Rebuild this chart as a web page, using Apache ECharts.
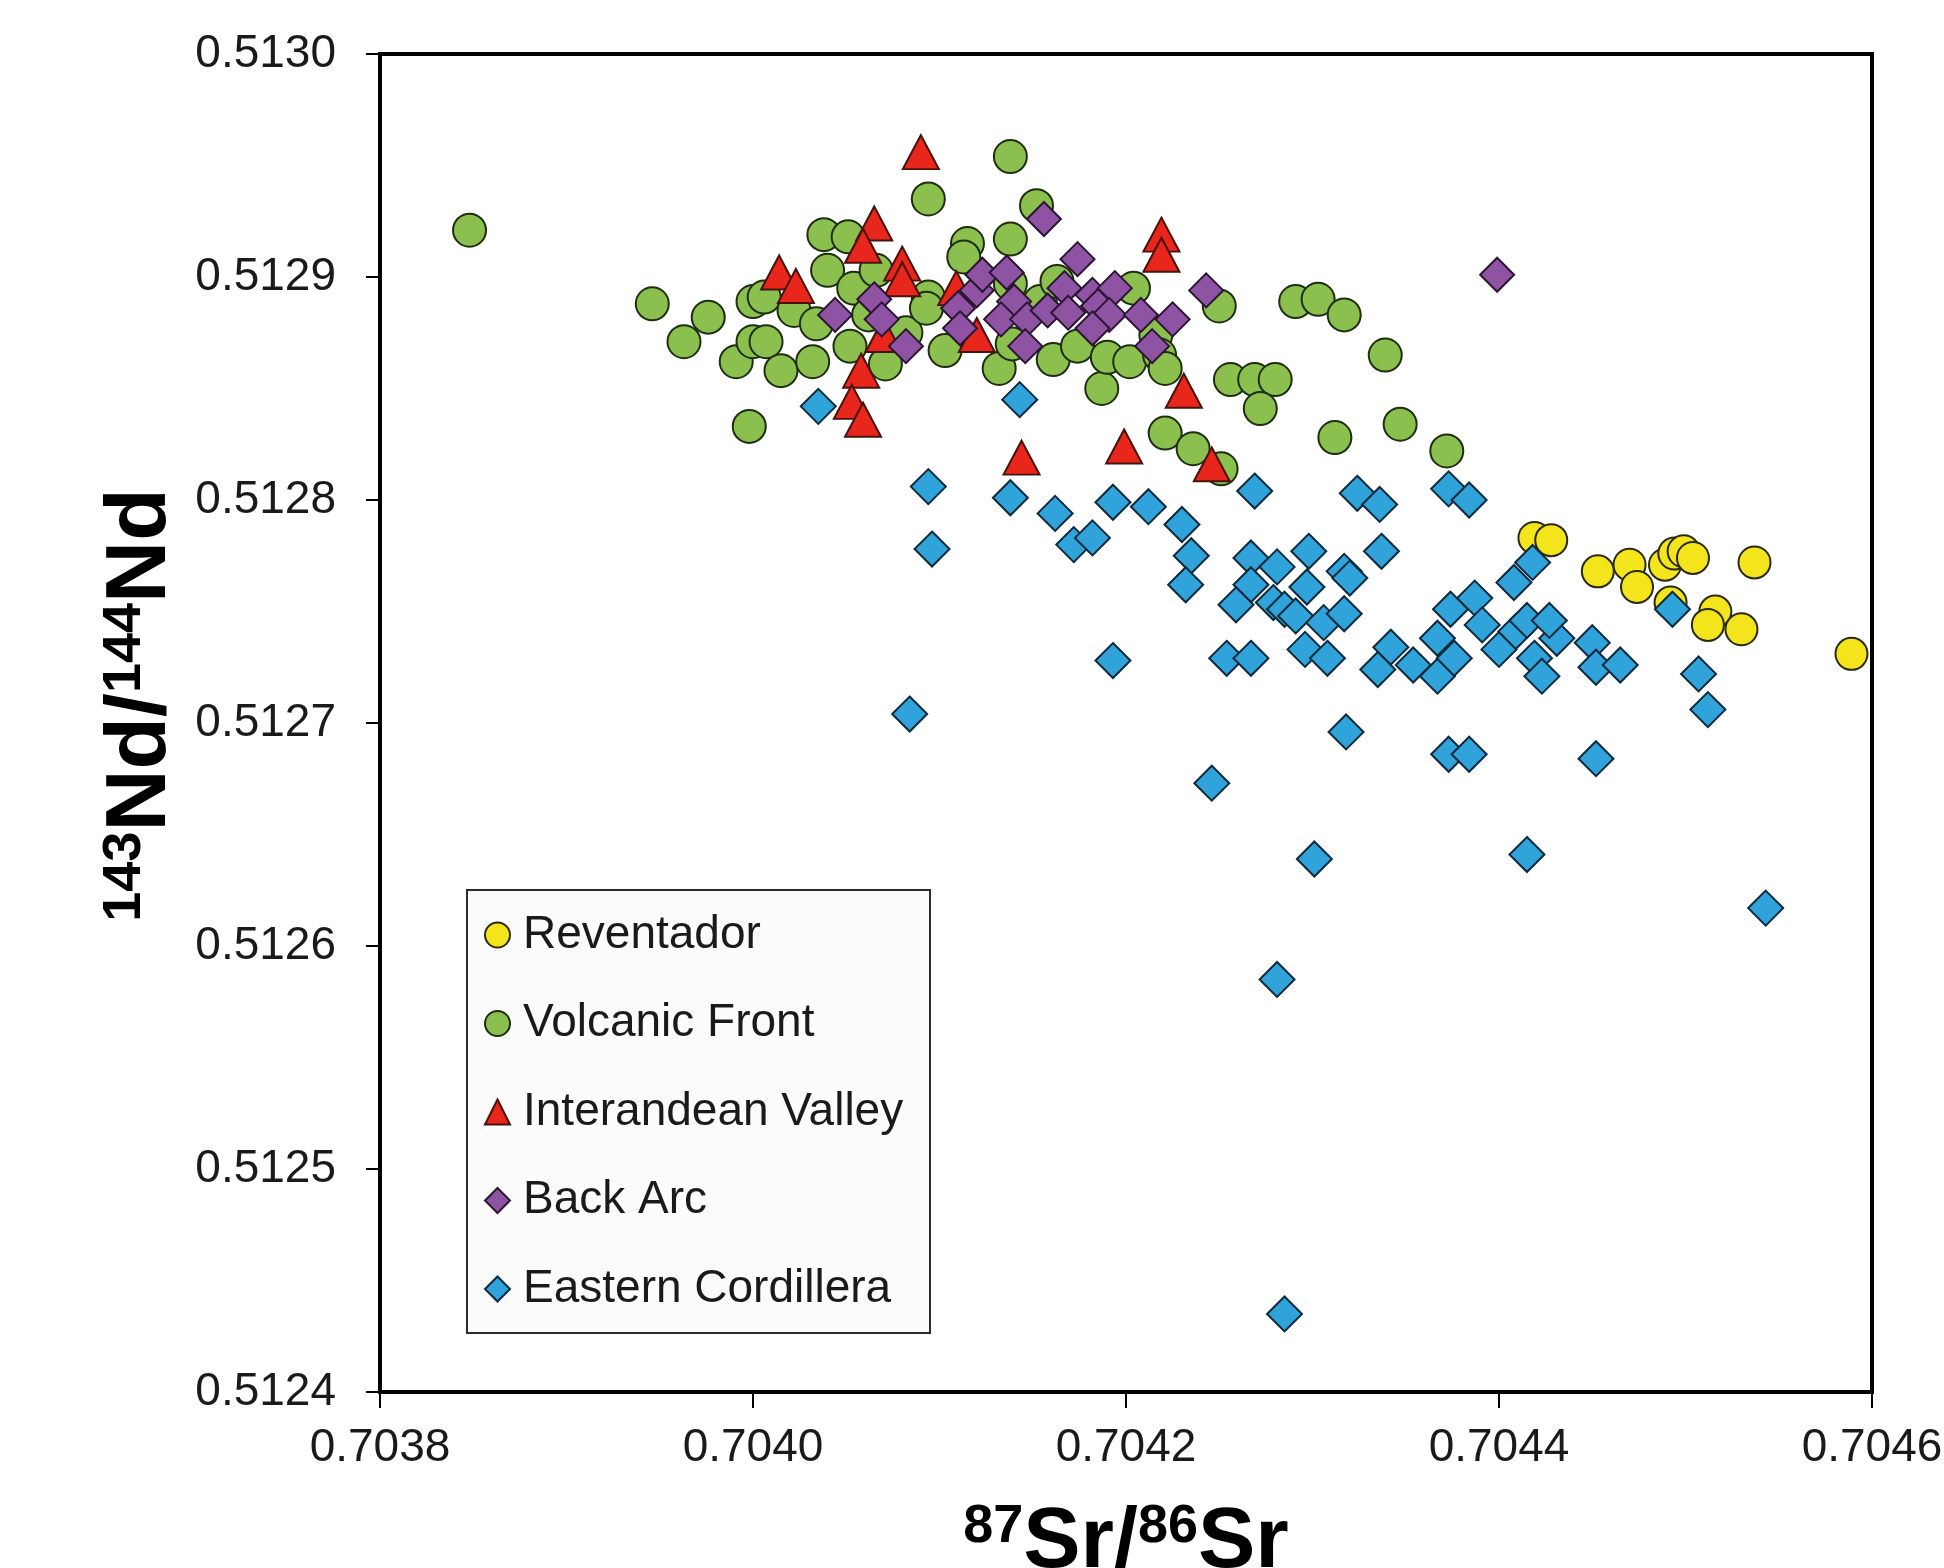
<!DOCTYPE html>
<html>
<head>
<meta charset="utf-8">
<script src="https://cdn.jsdelivr.net/npm/echarts@6/dist/echarts.min.js"></script>
<style>
html,body{margin:0;padding:0;background:#fff;}
#chart{width:1944px;height:1568px;}
</style>
</head>
<body>
<div id="chart"></div>
<script>
// ---- Data: [87Sr/86Sr, 143Nd/144Nd] ----
const seriesNames = ['Reventador', 'Volcanic Front', 'Interandean Valley', 'Back Arc', 'Eastern Cordillera'];

const reventador = [
  [0.704419,0.512783],[0.704428,0.512782],[0.704453,0.512768],[0.704470,0.512771],[0.704474,0.512761],
  [0.704489,0.512771],[0.704494,0.512776],[0.704499,0.512777],[0.704504,0.512774],[0.704492,0.512754],
  [0.704516,0.512750],[0.704512,0.512744],[0.704530,0.512742],[0.704537,0.512772],[0.704589,0.512731]
];

const volcanicFront = [
  [0.703848,0.512921],[0.703946,0.512888],[0.703976,0.512882],[0.703963,0.512871],[0.703991,0.512862],
  [0.704000,0.512871],[0.704007,0.512871],[0.703998,0.512833],[0.704000,0.512889],[0.704006,0.512891],
  [0.704015,0.512858],[0.704022,0.512885],[0.704032,0.512862],[0.704034,0.512879],[0.704038,0.512919],
  [0.704040,0.512903],[0.704051,0.512918],[0.704054,0.512895],[0.704066,0.512903],[0.704062,0.512883],
  [0.704082,0.512875],[0.704052,0.512869],[0.704071,0.512861],[0.704094,0.512891],[0.704093,0.512886],
  [0.704094,0.512935],[0.704115,0.512915],[0.704113,0.512909],[0.704138,0.512954],[0.704152,0.512932],
  [0.704138,0.512917],[0.704138,0.512897],[0.704103,0.512867],[0.704132,0.512859],[0.704139,0.512870],
  [0.704154,0.512889],[0.704163,0.512898],[0.704161,0.512863],[0.704174,0.512869],[0.704187,0.512850],
  [0.704190,0.512864],[0.704202,0.512862],[0.704204,0.512895],[0.704216,0.512874],[0.704218,0.512865],
  [0.704221,0.512859],[0.704221,0.512830],[0.704236,0.512823],[0.704251,0.512814],[0.704250,0.512887],
  [0.704256,0.512854],[0.704269,0.512854],[0.704280,0.512854],[0.704272,0.512841],[0.704291,0.512889],
  [0.704303,0.512890],[0.704317,0.512883],[0.704339,0.512865],[0.704312,0.512828],[0.704347,0.512834],
  [0.704372,0.512822]
];

const interandeanValley = [
  [0.704090,0.512956],[0.704014,0.512902],[0.704023,0.512896],[0.704065,0.512924],[0.704059,0.512914],
  [0.704080,0.512906],[0.704080,0.512899],[0.704058,0.512858],[0.704053,0.512844],[0.704059,0.512836],
  [0.704070,0.512874],[0.704120,0.512874],[0.704144,0.512819],[0.704199,0.512824],[0.704219,0.512919],
  [0.704219,0.512910],[0.704231,0.512849],[0.704246,0.512816],[0.704109,0.512895]
];

const backArc = [
  [0.704156,0.512926],[0.704174,0.512908],[0.704044,0.512883],[0.704065,0.512890],[0.704069,0.512881],
  [0.704082,0.512869],[0.704110,0.512886],[0.704120,0.512894],[0.704123,0.512901],[0.704111,0.512877],
  [0.704136,0.512902],[0.704140,0.512889],[0.704133,0.512881],[0.704147,0.512881],[0.704146,0.512869],
  [0.704158,0.512885],[0.704167,0.512895],[0.704169,0.512884],[0.704182,0.512892],[0.704185,0.512887],
  [0.704194,0.512895],[0.704191,0.512883],[0.704182,0.512877],[0.704208,0.512883],[0.704214,0.512869],
  [0.704225,0.512881],[0.704243,0.512894],[0.704399,0.512901]
];

const easternCordillera = [
  [0.704035,0.512842],[0.704143,0.512845],[0.704094,0.512806],[0.704138,0.512801],[0.704096,0.512778],
  [0.704084,0.512704],[0.704162,0.512794],[0.704172,0.512780],[0.704182,0.512783],[0.704193,0.512799],
  [0.704212,0.512797],[0.704230,0.512789],[0.704235,0.512775],[0.704232,0.512762],[0.704193,0.512728],
  [0.704246,0.512673],[0.704269,0.512804],[0.704267,0.512774],[0.704281,0.512770],[0.704298,0.512777],
  [0.704267,0.512762],[0.704259,0.512753],[0.704279,0.512754],[0.704285,0.512751],[0.704297,0.512761],
  [0.704291,0.512748],[0.704306,0.512745],[0.704317,0.512749],[0.704317,0.512768],[0.704320,0.512765],
  [0.704337,0.512777],[0.704254,0.512729],[0.704267,0.512729],[0.704296,0.512733],[0.704308,0.512729],
  [0.704324,0.512803],[0.704336,0.512798],[0.704373,0.512805],[0.704384,0.512800],[0.704342,0.512734],
  [0.704335,0.512724],[0.704354,0.512726],[0.704367,0.512721],[0.704367,0.512738],[0.704374,0.512751],
  [0.704387,0.512756],[0.704391,0.512744],[0.704376,0.512729],[0.704400,0.512733],[0.704409,0.512741],
  [0.704408,0.512763],[0.704418,0.512772],[0.704415,0.512746],[0.704419,0.512729],[0.704423,0.512721],
  [0.704431,0.512738],[0.704427,0.512746],[0.704450,0.512736],[0.704452,0.512725],[0.704465,0.512726],
  [0.704493,0.512751],[0.704507,0.512722],[0.704512,0.512706],[0.704318,0.512696],[0.704373,0.512686],
  [0.704384,0.512686],[0.704452,0.512684],[0.704301,0.512639],[0.704415,0.512641],[0.704543,0.512617],
  [0.704281,0.512585],[0.704285,0.512435]
];

// Axis ranges / ticks
const xMin = 0.7038, xMax = 0.7046, xStep = 0.0002;
const yMin = 0.5124, yMax = 0.5130, yStep = 0.0001;

const FONT = 'Liberation Sans';
const titleRich = {
  main: { fontSize: 86, fontWeight: 'bold', fontFamily: FONT, color: '#000', lineHeight: 86 },
  sup:  { fontSize: 54, fontWeight: 'bold', fontFamily: FONT, color: '#000', lineHeight: 40, verticalAlign: 'top' }
};

const chart = echarts.init(document.getElementById('chart'), null, { renderer: 'canvas' });

const option = {
  backgroundColor: '#ffffff',
  animation: false,
  grid: {
    left: 380, top: 54, width: 1492, height: 1338,
    show: true, borderColor: '#000', borderWidth: 4, backgroundColor: 'transparent',
    containLabel: false, outerBoundsMode: 'none'
  },
  xAxis: {
    type: 'value', min: xMin, max: xMax, interval: xStep,
    axisLine: { show: true, onZero: false, lineStyle: { color: '#000', width: 4 } },
    axisTick: { show: true, length: 16, lineStyle: { color: '#000', width: 2 } },
    axisLabel: { fontSize: 46, color: '#1a1a1a', fontFamily: FONT, margin: 33,
                 formatter: v => v.toFixed(4) },
    splitLine: { show: false },
    name: '{sup|87}{main|Sr/}{sup|86}{main|Sr}',
    nameLocation: 'middle', nameGap: 108,
    nameTextStyle: { rich: titleRich }
  },
  yAxis: {
    type: 'value', min: yMin, max: yMax, interval: yStep,
    axisLine: { show: true, onZero: false, lineStyle: { color: '#000', width: 4 } },
    axisTick: { show: true, length: 14, lineStyle: { color: '#000', width: 2 } },
    axisLabel: { fontSize: 46, color: '#1a1a1a', fontFamily: FONT, margin: 44,
                 formatter: v => v.toFixed(4) },
    splitLine: { show: false },
    name: '{sup|143}{main|Nd/}{sup|144}{main|Nd}',
    nameLocation: 'middle', nameGap: 189,
    nameTextStyle: { rich: titleRich, padding: [0, 0, 0, 36] }
  },
  legend: {
    data: seriesNames,
    orient: 'vertical', left: 484, top: 910,
    itemWidth: 25, itemHeight: 25, itemGap: 38.5, padding: 0,
    selectedMode: false,
    textStyle: { fontSize: 46, color: '#1a1a1a', fontFamily: FONT, lineHeight: 50, padding: [0, 0, 0, 8] },
    itemStyle: { borderWidth: 2, borderColor: 'inherit' },
    z: 10
  },
  graphic: [{
    type: 'rect', z: 3,
    shape: { x: 467, y: 890, width: 463, height: 443 },
    style: { fill: '#fbfbfb', stroke: '#2b2b2b', lineWidth: 2 }
  }],
  series: [
    { name: seriesNames[0], type: 'scatter', data: reventador, symbol: 'circle', symbolSize: 32,
      itemStyle: { color: '#f3e41b', borderColor: '#2a2a10', borderWidth: 2, opacity: 1 } },
    { name: seriesNames[1], type: 'scatter', data: volcanicFront, symbol: 'circle', symbolSize: 33,
      itemStyle: { color: '#8bc04e', borderColor: '#1e2e10', borderWidth: 2, opacity: 1 } },
    { name: seriesNames[2], type: 'scatter', data: interandeanValley, symbol: 'triangle', symbolSize: [36, 34],
      itemStyle: { color: '#e8261c', borderColor: '#4a120c', borderWidth: 2, opacity: 1 } },
    { name: seriesNames[3], type: 'scatter', data: backArc, symbol: 'diamond', symbolSize: 34,
      itemStyle: { color: '#8e53a2', borderColor: '#2b1533', borderWidth: 2, opacity: 1 } },
    { name: seriesNames[4], type: 'scatter', data: easternCordillera, symbol: 'diamond', symbolSize: 35,
      itemStyle: { color: '#2fa3da', borderColor: '#0e2a3c', borderWidth: 2, opacity: 1 } }
  ]
};

chart.setOption(option);
</script>
</body>
</html>
